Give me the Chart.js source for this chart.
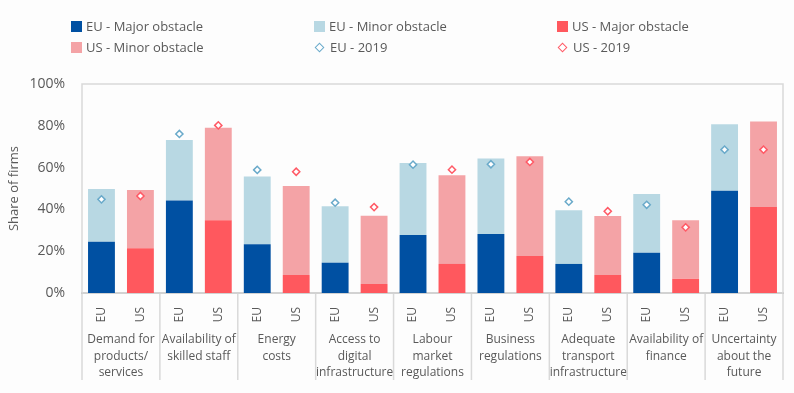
<!DOCTYPE html>
<html>
<head>
<meta charset="utf-8">
<script src="https://cdn.jsdelivr.net/npm/chart.js@4.4.1/dist/chart.umd.min.js"></script>
<style>
    body { margin: 0; background: #fdfdfd; font-family: 'Open Sans', sans-serif; }
    #wrap { position: relative; width: 794px; height: 393px; }
    #legend { position: absolute; left: 71px; top: 18px; display: grid; grid-template-columns: 243px 243px 243px; row-gap: 5px; }
    .item { display: flex; align-items: center; font-size: 13px; color: #595959; height: 16px; }
    .box { width: 11px; height: 11px; margin-right: 4px; }
    .dia { width: 5px; height: 5px; border: 1.5px solid; transform: rotate(45deg); margin: 0 7px 0 2px; background: #fff; }
</style>
</head>
<body>
<div id="wrap">
    <div id="legend"></div>
    <canvas id="chart" width="794" height="393"></canvas>
</div>
<script>
// Data
const groups = [
    ['Demand for', 'products/', 'services'],
    ['Availability of', 'skilled staff'],
    ['Energy', 'costs'],
    ['Access to', 'digital', 'infrastructure'],
    ['Labour', 'market', 'regulations'],
    ['Business', 'regulations'],
    ['Adequate', 'transport', 'infrastructure'],
    ['Availability of', 'finance'],
    ['Uncertainty', 'about the', 'future']
];
const euMajor = [24.5, 44.2, 23.3, 14.5, 27.8, 28.2, 13.9, 19.3, 48.9];
const euMinor = [25.3, 29.0, 32.5, 27.0, 34.4, 36.2, 25.7, 28.1, 31.8];
const usMajor = [21.4, 34.8, 8.6, 4.3, 13.9, 17.7, 8.6, 6.8, 41.1];
const usMinor = [27.9, 44.3, 42.6, 32.7, 42.4, 47.7, 28.2, 28.0, 40.9];
const eu2019 = [44.8, 76.1, 58.9, 43.2, 61.4, 61.6, 43.7, 42.2, 68.6];
const us2019 = [46.4, 80.2, 58.0, 41.1, 59.0, 62.7, 39.1, 31.4, 68.6];
const yTicks = [0, 20, 40, 60, 80, 100];

const COLORS = {
    euMajor: '#0050a2',
    euMinor: '#b8d8e3',
    usMajor: '#ff585e',
    usMinor: '#f4a3a6',
    eu2019: '#6aaaca',
    us2019: '#ff5a66'
};
const textColor = '#595959';

// every group has an EU and a US column
const labels = [];
groups.forEach(() => labels.push('EU', 'US'));

function onEU(values) {
    const out = [];
    values.forEach(v => out.push(v, null));
    return out;
}
function onUS(values) {
    const out = [];
    values.forEach(v => out.push(null, v));
    return out;
}

function barSet(label, data, color) {
    return {
        type: 'bar', label: label, data: data, backgroundColor: color,
        stack: 'bars', order: 1, barPercentage: 0.69, categoryPercentage: 1
    };
}
function pointSet(label, data, color, stack) {
    return {
        type: 'line', label: label, data: data, showLine: false, stack: stack, order: 0,
        pointStyle: 'rectRot', pointRadius: 3.6, pointBorderWidth: 1.5,
        pointBackgroundColor: '#ffffff', pointBorderColor: color, borderColor: color
    };
}

const datasets = [
    barSet('EU - Major obstacle', onEU(euMajor), COLORS.euMajor),
    barSet('EU - Minor obstacle', onEU(euMinor), COLORS.euMinor),
    barSet('US - Major obstacle', onUS(usMajor), COLORS.usMajor),
    barSet('US - Minor obstacle', onUS(usMinor), COLORS.usMinor),
    pointSet('EU - 2019', onEU(eu2019), COLORS.eu2019, 'p1'),
    pointSet('US - 2019', onUS(us2019), COLORS.us2019, 'p2')
];

// Plot frame and group separators
const framePlugin = {
    id: 'frame',
    beforeDatasetsDraw(chart) {
        const { ctx, chartArea } = chart;
        ctx.save();
        ctx.strokeStyle = '#d9d9d9';
        ctx.lineWidth = 1.5;
        ctx.strokeRect(chartArea.left, chartArea.top, chartArea.right - chartArea.left, chartArea.bottom - chartArea.top);
        ctx.restore();
    },
    afterDraw(chart) {
        const { ctx, chartArea } = chart;
        const x = chart.scales.x;
        const x2 = chart.scales.x2;
        ctx.save();
        ctx.strokeStyle = '#d9d9d9';
        ctx.lineWidth = 1.5;
        for (let i = 0; i <= groups.length; i++) {
            let px;
            if (i === 0) px = x.left;
            else if (i === groups.length) px = x.right;
            else px = (x.getPixelForValue(2 * i - 1) + x.getPixelForValue(2 * i)) / 2;
            ctx.beginPath();
            ctx.moveTo(px, chartArea.bottom + 1);
            ctx.lineTo(px, x2.bottom);
            ctx.stroke();
        }
        ctx.restore();
    }
};

const chart = new Chart(document.getElementById('chart'), {
    data: { labels: labels, datasets: datasets },
    options: {
        responsive: false,
        animation: false,
        layout: { padding: { top: 84, right: 11, bottom: 13, left: 0 } },
        plugins: {
            legend: { display: false },
            tooltip: { enabled: false }
        },
        scales: {
            x: {
                stacked: true,
                afterFit: axis => { axis.height = 33; },
                grid: { display: false, drawTicks: false },
                border: { color: '#bfbfbf', width: 2 },
                ticks: {
                    color: textColor, font: { family: 'Open Sans', size: 12 },
                    minRotation: 90, maxRotation: 90, padding: 14
                }
            },
            x2: {
                type: 'category',
                position: 'bottom',
                offset: true,
                labels: groups,
                afterFit: axis => { axis.height = 54; },
                grid: { display: false, drawTicks: false },
                border: { display: false },
                ticks: {
                    color: textColor, font: { family: 'Open Sans', size: 12, lineHeight: 1.4 },
                    maxRotation: 0, autoSkip: false, padding: 5
                }
            },
            y: {
                stacked: true,
                min: 0, max: 100,
                afterBuildTicks: axis => { axis.ticks = yTicks.map(v => ({ value: v })); },
                afterFit: axis => { axis.width = 82; },
                grid: { display: false, drawTicks: false },
                border: { display: false },
                ticks: {
                    color: textColor, font: { family: 'Open Sans', size: 14 }, padding: 17,
                    callback: v => v + '%'
                },
                title: {
                    display: true, text: 'Share of firms', color: textColor,
                    font: { family: 'Open Sans', size: 13 }, padding: { top: 6, bottom: 2 }
                }
            }
        }
    },
    plugins: [framePlugin]
});

// HTML legend in a 3-column grid
const legend = document.getElementById('legend');
datasets.forEach(ds => {
    const item = document.createElement('div');
    item.className = 'item';
    if (ds.type === 'bar') {
        item.innerHTML = `<span class="box" style="background:${ds.backgroundColor}"></span>${ds.label}`;
    } else {
        item.innerHTML = `<span class="dia" style="border-color:${ds.pointBorderColor}"></span>${ds.label}`;
    }
    legend.appendChild(item);
});
</script>
</body>
</html>
